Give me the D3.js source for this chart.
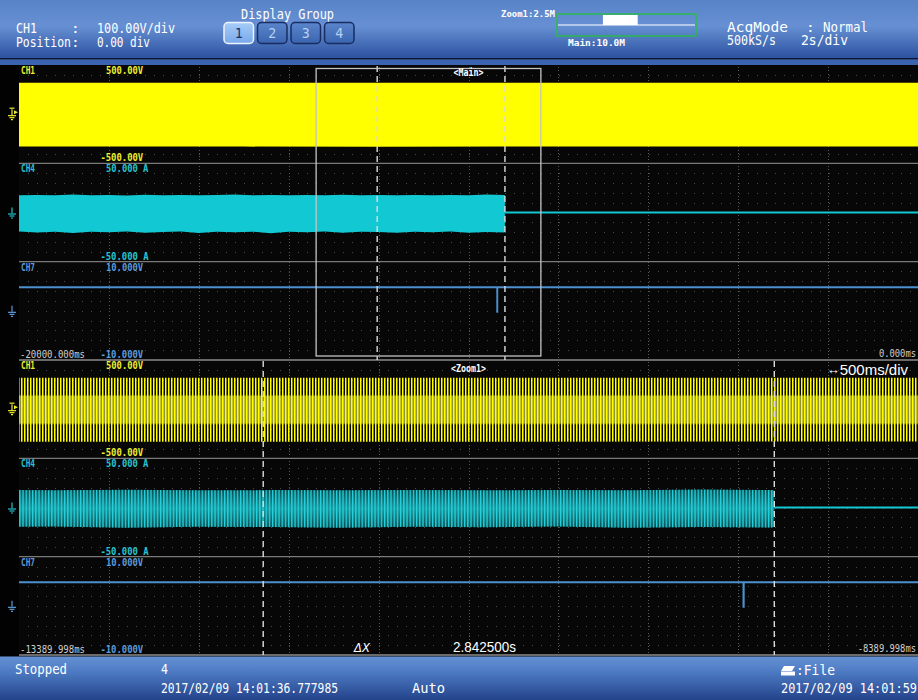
<!DOCTYPE html>
<html>
<head>
<meta charset="utf-8">
<script src="https://cdn.jsdelivr.net/npm/d3@7"></script>
<style>
  html, body { margin: 0; padding: 0; background: #000; overflow: hidden; }
  svg { display: block; }
</style>
</head>
<body>
<svg id="scope" width="918" height="700"></svg>
<script>
// ---------------- acquisition settings ----------------
const mainWindow = [-20000, 0];              // ms, 2 s/div
const zoomWindow = [-13389.998, -8389.998];  // ms, 500 ms/div
const cursorTimes = [-12031.75, -9189.25];   // ms, vertical cursors

// ---------------- channels ----------------
const channelNames = ["CH1", "CH4", "CH7"];
const traceColors = ["#ffff00", "#12c8d2", "#4c90d0"];
const labelColors = ["#eeee2e", "#26c4cf", "#5c9bd8"];
const channelFullScale = [500, 50, 10];
const topLabels = ["500.00V", "50.000 A", "10.000V"];
const bottomLabels = ["-500.00V", "-50.000 A", "-10.000V"];

// CH1 line voltage, peak envelope (V)
const ch1Times = [-20000, -15000, -12000, -9190, -5000, 0];
const ch1Max = [320, 320, 319, 320, 320, 320];
const ch1Min = [-330, -330, -331, -330, -330, -330];

// CH4 phase current while the drive runs, peak envelope (A)
const ch4Times = [-20000, -19600, -19200, -18800, -18400, -18000, -17600, -17200, -16800, -16400,
                  -16000, -15600, -15200, -14800, -14400, -14000, -13600, -13200, -12800, -12400,
                  -12000, -11600, -11200, -10800, -10400, -10000, -9600, -9200, -9190];
const ch4Max = [17.6, 17.9, 17.5, 18.3, 17.6, 17.7, 17.4, 18.0, 17.6, 17.8,
                17.5, 17.9, 18.4, 17.6, 17.7, 17.5, 17.8, 17.6, 18.1, 17.5,
                17.7, 17.6, 17.9, 17.5, 17.8, 17.6, 18.2, 17.7, 17.6];
const ch4Min = [-19.4, -20.3, -19.6, -20.8, -19.5, -20.1, -19.3, -20.6, -19.8, -19.4,
                -20.9, -19.6, -20.2, -19.5, -21.0, -19.7, -20.0, -19.4, -20.5, -19.6,
                -19.9, -20.7, -19.5, -20.1, -19.4, -20.6, -19.8, -20.3, -19.7];
// CH4 after the current stops (A)
const ch4IdleTimes = [-9190, 0];
const ch4IdleValues = [0, 0];

// CH7 control signal (V)
const ch7Times = [-20000, -9361, -9361, -9359, -9359, 0];
const ch7Values = [4.8, 4.8, -0.2, -0.2, 4.8, 4.8];

// ---------------- header / status texts ----------------
const displayGroups = ["1", "2", "3", "4"];
const activeGroup = 0;
const recordLengths = ["Zoom1:2.5M", "Main:10.0M"];
const timeDivLabels = ["2s/div", "500ms/div"];

// ---------------- helpers ----------------
const fmt = d3.formatLocale({decimal: ".", thousands: ",", grouping: [3], currency: ["", ""], minus: "-"});
const fmtMs = t => fmt.format(".3f")(t) + "ms";
const fmtS = ms => fmt.format(".6f")(ms / 1000) + "s";

const svg = d3.select("#scope");
const W = 918, H = 700;
const plotL = 19, plotR = 918;
const mono = "'DejaVu Sans Mono', monospace";

function txt(g, s, x, y, o = {}) {
  const t = g.append("text")
    .attr("x", x).attr("y", y)
    .attr("fill", o.color || "#ffffff")
    .attr("font-family", o.family || mono)
    .attr("font-size", o.size || 11)
    .attr("font-weight", o.weight || "normal")
    .text(s);
  if (o.width) t.attr("textLength", o.width).attr("lengthAdjust", "spacingAndGlyphs");
  if (o.anchor) t.attr("text-anchor", o.anchor);
  if (o.style) t.attr("font-style", o.style);
  return t;
}

// ---------------- defs ----------------
const defs = svg.append("defs");
function vGrad(id, stops) {
  const g = defs.append("linearGradient").attr("id", id)
    .attr("x1", 0).attr("y1", 0).attr("x2", 0).attr("y2", 1);
  stops.forEach(s => g.append("stop").attr("offset", s[0]).attr("stop-color", s[1])
    .attr("stop-opacity", s[2] === undefined ? 1 : s[2]));
}
vGrad("hdr", [[0, "#5883c6"], [0.45, "#6690d3"], [1, "#2c52a0"]]);
vGrad("bar", [[0, "#6591d4"], [0.35, "#4d7bc3"], [1, "#23438b"]]);
vGrad("innerY", [[0, "#000", 0], [0.25, "#000", 0], [0.29, "#d0d058", 0.7], [0.71, "#d0d058", 0.7], [0.75, "#000", 0], [1, "#000", 0]]);
vGrad("innerC", [[0, "#0a4a50"], [0.5, "#1a9aa3"], [1, "#0a4a50"]]);
vGrad("btnOn", [[0, "#a6ccf8"], [1, "#79a8ea"]]);
vGrad("btnOff", [[0, "#5a86cc"], [1, "#3b64ae"]]);

const stripeY = defs.append("pattern").attr("id", "stripeY")
  .attr("patternUnits", "userSpaceOnUse").attr("width", 3).attr("height", 4);
stripeY.append("rect").attr("width", 1.5).attr("height", 4).attr("fill", "#ffff00");
const stripeC = defs.append("pattern").attr("id", "stripeC")
  .attr("patternUnits", "userSpaceOnUse").attr("width", 3.2).attr("height", 4);
stripeC.append("rect").attr("width", 1.3).attr("height", 4).attr("fill", "#22d4dc");

// ---------------- background ----------------
svg.append("rect").attr("width", W).attr("height", H).attr("fill", "#080707");

// header
svg.append("rect").attr("x", 0).attr("y", 0).attr("width", W).attr("height", 58).attr("fill", "url(#hdr)");
svg.append("rect").attr("x", 0).attr("y", 58).attr("width", W).attr("height", 1.3).attr("fill", "#0c1630");
svg.append("rect").attr("x", 0).attr("y", 59.3).attr("width", W).attr("height", 5.7).attr("fill", "#3b63b0");

// status bar
svg.append("rect").attr("x", 0).attr("y", 656.5).attr("width", W).attr("height", H - 656.5).attr("fill", "url(#bar)");

// left marker strip
svg.append("rect").attr("x", 0).attr("y", 65).attr("width", plotL).attr("height", 591).attr("fill", "#020202");

// ---------------- panels ----------------
const panels = [
  {id: "main", top: 65, bottom: 360, x: d3.scaleLinear().domain(mainWindow).range([plotL, plotR])},
  {id: "zoom", top: 360, bottom: 655, x: d3.scaleLinear().domain(zoomWindow).range([plotL, plotR])}
];

const ch1Data = ch1Times.map((t, i) => ({t, hi: ch1Max[i], lo: ch1Min[i]}));
const ch4Data = ch4Times.map((t, i) => ({t, hi: ch4Max[i], lo: ch4Min[i]}));
const ch4Idle = ch4IdleTimes.map((t, i) => ({t, v: ch4IdleValues[i]}));
const ch7Data = ch7Times.map((t, i) => ({t, v: ch7Values[i]}));

panels.forEach(p => {
  const h = (p.bottom - p.top) / 3;
  const g = svg.append("g").attr("class", "panel-" + p.id);
  defs.append("clipPath").attr("id", "clip-" + p.id)
    .append("rect").attr("x", plotL).attr("y", p.top).attr("width", plotR - plotL).attr("height", p.bottom - p.top);

  // dotted graticule
  const grid = g.append("g").attr("shape-rendering", "crispEdges");
  for (let i = 0; i < 3; i++) {
    for (let k = 1; k < 10; k++) {
      const y = Math.round(p.top + i * h + k * h / 10) + 0.5;
      grid.append("line").attr("x1", plotL + 9).attr("x2", plotR).attr("y1", y).attr("y2", y)
        .attr("stroke", "#4a4a4a").attr("stroke-width", 1).attr("stroke-dasharray", "1,8");
    }
  }
  const divX = d3.scaleLinear().domain([0, 10]).range([plotL, plotR]);
  for (let j = 1; j < 10; j++) {
    const x = Math.round(divX(j)) + 0.5;
    grid.append("line").attr("x1", x).attr("x2", x).attr("y1", p.top + 2).attr("y2", p.bottom)
      .attr("stroke", "#5a5a5a").attr("stroke-width", 1).attr("stroke-dasharray", "1,2.3");
  }

  const yScales = channelFullScale.map((fs, i) =>
    d3.scaleLinear().domain([-fs, fs]).range([p.top + (i + 1) * h, p.top + i * h]));

  const w = g.append("g").attr("clip-path", "url(#clip-" + p.id + ")");
  const x = p.x;

  // CH1 voltage
  const a1 = d3.area().x(d => x(d.t)).y0(d => yScales[0](d.lo)).y1(d => yScales[0](d.hi));
  if (p.id === "main") {
    w.append("path").datum(ch1Data).attr("d", a1).attr("fill", traceColors[0]);
  } else {
    w.append("path").datum(ch1Data).attr("d", a1).attr("fill", "url(#innerY)");
    w.append("path").datum(ch1Data).attr("d", a1).attr("fill", "url(#stripeY)");
  }

  // CH4 current
  const a4 = d3.area().x(d => x(d.t)).y0(d => yScales[1](d.lo)).y1(d => yScales[1](d.hi));
  if (p.id === "main") {
    w.append("path").datum(ch4Data).attr("d", a4).attr("fill", traceColors[1]);
  } else {
    w.append("path").datum(ch4Data).attr("d", a4).attr("fill", "url(#innerC)");
    w.append("path").datum(ch4Data).attr("d", a4).attr("fill", "url(#stripeC)");
  }
  w.append("path").datum(ch4Idle)
    .attr("d", d3.line().x(d => x(d.t)).y(d => yScales[1](d.v)))
    .attr("fill", "none").attr("stroke", traceColors[1]).attr("stroke-width", 2);

  // CH7 control signal
  w.append("path").datum(ch7Data)
    .attr("d", d3.line().x(d => x(d.t)).y(d => yScales[2](d.v)))
    .attr("fill", "none").attr("stroke", traceColors[2]).attr("stroke-width", 1.8);

  // channel separators
  [1, 2].forEach(i => {
    g.append("line").attr("x1", plotL).attr("x2", plotR)
      .attr("y1", p.top + i * h).attr("y2", p.top + i * h)
      .attr("stroke", "#7a7a7a").attr("stroke-width", 1.4);
  });
  g.append("line").attr("x1", plotL).attr("x2", plotR).attr("y1", p.bottom).attr("y2", p.bottom)
    .attr("stroke", "#8c8c8c").attr("stroke-width", 1.5);

  // cursors
  cursorTimes.forEach(t => {
    g.append("line").attr("x1", x(t)).attr("x2", x(t)).attr("y1", p.top + 1).attr("y2", p.bottom)
      .attr("stroke", "#dcdcdc").attr("stroke-width", 1.4).attr("stroke-dasharray", "6,4");
  });

  // channel labels and ground markers
  const lab = g.append("g");
  channelNames.forEach((name, i) => {
    const top = p.top + i * h, bot = p.top + (i + 1) * h;
    const o = {color: labelColors[i], size: 10.5, weight: "bold"};
    txt(lab, name, 21, top + 9, {...o, width: 14});
    txt(lab, topLabels[i], 106, top + 9, {...o, width: topLabels[i].length * 5.3});
    txt(lab, bottomLabels[i], 106 - 5.6, bot - 2, {...o, width: bottomLabels[i].length * 5.35});

    // ground marker at the channel's zero level
    const cy = yScales[i](0);
    const m = lab.append("g").attr("stroke", labelColors[i]).attr("stroke-width", 1.2).attr("fill", "none");
    m.append("line").attr("x1", 12).attr("x2", 12).attr("y1", cy - 5).attr("y2", cy + 1);
    m.append("line").attr("x1", 8).attr("x2", 16).attr("y1", cy + 1.5).attr("y2", cy + 1.5);
    m.append("line").attr("x1", 9.5).attr("x2", 14.5).attr("y1", cy + 3.5).attr("y2", cy + 3.5);
    m.append("line").attr("x1", 11).attr("x2", 13).attr("y1", cy + 5.5).attr("y2", cy + 5.5);
    if (i === 0) {
      m.append("line").attr("x1", 9.5).attr("x2", 14.5).attr("y1", cy - 6).attr("y2", cy - 6);
      lab.append("path").attr("d", `M14,${cy - 4} L18,${cy - 2} L14,${cy} Z`).attr("fill", labelColors[i]);
    }
  });

  // time-axis end labels
  txt(lab, fmtMs(x.domain()[0]), 20, p.bottom - 2, {color: "#cfcfcf", size: 10.5, width: 65});
  const endLabel = fmtMs(x.domain()[1]);
  txt(lab, endLabel, plotR - 2, p.bottom - 3, {color: "#cfcfcf", size: 10.5, anchor: "end", width: endLabel.length * 5.3});
});

// zoom window outline on the main view
const xm = panels[0].x;
svg.append("rect")
  .attr("x", xm(zoomWindow[0])).attr("y", 68.5)
  .attr("width", xm(zoomWindow[1]) - xm(zoomWindow[0])).attr("height", 356 - 68.5)
  .attr("fill", "none").attr("stroke", "#c4c4c4").attr("stroke-width", 1.3);

const cx = (plotL + plotR) / 2;
txt(svg, "<Main>", cx, 76, {size: 10, weight: "bold", anchor: "middle", width: 30});
txt(svg, "<Zoom1>", cx, 372, {size: 10, weight: "bold", anchor: "middle", width: 35});

// zoom time/div
const tdiv = txt(svg, "", 908, 375, {family: "'Liberation Sans', Arial, sans-serif", size: 15, anchor: "end"});
tdiv.append("tspan").attr("font-size", 13).attr("dy", -1).text("↔");
tdiv.append("tspan").attr("dy", 1).text(timeDivLabels[1]);

// cursor delta
txt(svg, "ΔX", 354, 651.5, {family: "'DejaVu Sans', sans-serif", size: 12, style: "italic", width: 16});
txt(svg, fmtS(cursorTimes[1] - cursorTimes[0]), 453, 652, {family: "'Liberation Sans', Arial, sans-serif", size: 14, width: 63});

// ---------------- header ----------------
const hdr = svg.append("g");
const hs = 14.5;
txt(hdr, "CH1", 16, 33.3, {size: hs, width: 21});
txt(hdr, ":", 71, 33.3, {size: hs});
txt(hdr, "100.00V/div", 97, 33.3, {size: hs, width: 78});
txt(hdr, "Position", 16, 46.7, {size: hs, width: 55});
txt(hdr, ":", 71, 46.7, {size: hs});
txt(hdr, "0.00 div", 97, 46.7, {size: hs, width: 53});

txt(hdr, "Display Group", 241, 19, {size: 13.5, width: 93});
const btnX = d3.scaleBand().domain(displayGroups).range([224, 354]).paddingInner(0.12);
displayGroups.forEach((d, i) => {
  const on = i === activeGroup;
  hdr.append("rect").attr("x", btnX(d)).attr("y", 22.5).attr("width", btnX.bandwidth()).attr("height", 21)
    .attr("rx", 4).attr("fill", on ? "url(#btnOn)" : "url(#btnOff)")
    .attr("stroke", on ? "#eef4ff" : "#1a2d62").attr("stroke-width", 1.5);
  txt(hdr, d, btnX(d) + btnX.bandwidth() / 2, 38, {size: 14, anchor: "middle", width: 8,
    color: on ? "#15306e" : "#b6cff2"});
});

// record-length indicator
const barX = d3.scaleLinear().domain(mainWindow).range([557, 696]);
txt(hdr, recordLengths[0], 501, 17.3, {size: 9, weight: "bold", width: 54});
txt(hdr, recordLengths[1], 568, 46, {size: 9, weight: "bold", width: 57});
hdr.append("rect").attr("x", 557).attr("y", 14).attr("width", 139).attr("height", 22)
  .attr("fill", "none").attr("stroke", "#22c23e").attr("stroke-width", 1.3);
hdr.append("line").attr("x1", 558).attr("x2", 695).attr("y1", 25).attr("y2", 25)
  .attr("stroke", "#ffffff").attr("stroke-width", 1.2);
hdr.append("rect").attr("x", barX(zoomWindow[0])).attr("y", 15).attr("width", barX(zoomWindow[1]) - barX(zoomWindow[0]))
  .attr("height", 10).attr("fill", "#ffffff");

txt(hdr, "AcqMode", 727, 31.7, {size: hs, width: 61});
txt(hdr, ":", 806, 31.7, {size: hs});
txt(hdr, "Normal", 823, 31.7, {size: hs, width: 45});
txt(hdr, "500kS/s", 727, 45, {size: hs, width: 49});
txt(hdr, timeDivLabels[0], 801, 45, {size: hs, width: 47});

// ---------------- status bar ----------------
const st = svg.append("g");
txt(st, "Stopped", 15, 674, {size: 14, width: 52});
txt(st, "4", 161, 674, {size: 14, width: 7});
txt(st, "2017/02/09 14:01:36.777985", 161, 693, {size: 14, width: 177});
txt(st, "Auto", 412, 693, {size: 14, width: 33});
st.append("path").attr("d", "M784,666 L795,666 L792,671 L781,671 Z").attr("fill", "#ffffff");
st.append("rect").attr("x", 781).attr("y", 671.5).attr("width", 14).attr("height", 4).attr("fill", "#ffffff");
txt(st, ":File", 796, 675, {size: 14, width: 39});
txt(st, "2017/02/09 14:01:59", 781, 693, {size: 14, width: 136});
</script>
</body>
</html>
